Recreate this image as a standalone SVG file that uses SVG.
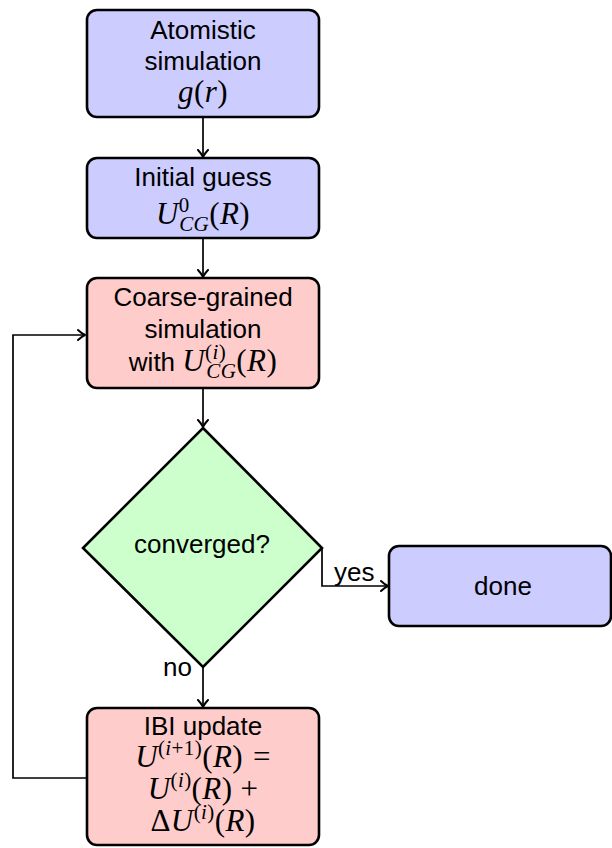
<svg xmlns="http://www.w3.org/2000/svg" width="612" height="848" viewBox="0 0 612 848">
  <style>
    .box{stroke:#000;stroke-width:2.6}
    .blue{fill:#ccccff}
    .red{fill:#ffcccc}
    .green{fill:#ccffcc}
    .t{font-family:"Liberation Sans",Arial,Helvetica,sans-serif;font-size:26px;text-anchor:middle;fill:#000}
    .lbl{font-family:"Liberation Sans",Arial,Helvetica,sans-serif;font-size:26px;fill:#000}
    .m{font-family:"Liberation Serif","Times New Roman",serif;font-size:31px;letter-spacing:0.4px}
    .i{font-style:italic}
    .s{font-size:21px}
    .c{fill:none;stroke:#000;stroke-width:1.7}
  </style>
  <defs>
    <marker id="arr" markerUnits="userSpaceOnUse" markerWidth="16" markerHeight="16" viewBox="-8 -8 16 16" refX="0" refY="0" orient="auto">
      <path d="M-7,-5 C-4,-2.2 -1.8,-0.7 0,0 C-1.8,0.7 -4,2.2 -7,5" fill="none" stroke="#000" stroke-width="2" stroke-linecap="round" stroke-linejoin="round"/>
    </marker>
  </defs>

  <!-- connectors -->
  <g id="connectors">
    <path class="c" d="M203,117 V157" marker-end="url(#arr)"/>
    <path class="c" d="M203,238 V277" marker-end="url(#arr)"/>
    <path class="c" d="M203,388 V427" marker-end="url(#arr)"/>
    <path class="c" d="M203,667 V707" marker-end="url(#arr)"/>
    <path class="c" d="M322,548 V586 H388" marker-end="url(#arr)"/>
    <path class="c" d="M87,778 H13 V335 H85" marker-end="url(#arr)"/>
    <text class="lbl" x="334" y="581">yes</text>
    <text class="lbl" x="192" y="676" text-anchor="end">no</text>
  </g>

  <!-- atomistic reference run -->
  <g id="atomistic">
    <rect class="box blue" x="87" y="10" width="232" height="107" rx="10"/>
    <text class="t" x="203" y="39">Atomistic</text>
    <text class="t" x="203" y="70">simulation</text>
    <text class="t m" x="203" y="102"><tspan class="i">g</tspan>(<tspan class="i">r</tspan>)</text>
  </g>

  <!-- starting potential -->
  <g id="initial">
    <rect class="box blue" x="87" y="158" width="232" height="80" rx="10"/>
    <text class="t" x="203" y="186">Initial guess</text>
    <text class="t m" x="203" y="224"><tspan class="i">U</tspan><tspan class="s" dy="-12">0</tspan><tspan class="s i" dx="-10.5" dy="19">CG</tspan><tspan dy="-7">(</tspan><tspan class="i">R</tspan>)</text>
  </g>

  <!-- CG run -->
  <g id="cg-sim">
    <rect class="box red" x="87" y="278" width="232" height="110" rx="10"/>
    <text class="t" x="203" y="306">Coarse-grained</text>
    <text class="t" x="203" y="338">simulation</text>
    <text class="t" x="203" y="371">with <tspan class="m i">U</tspan><tspan class="m s" dy="-12">(<tspan class="i">i</tspan>)</tspan><tspan class="m s i" dx="-19.8" dy="19">CG</tspan><tspan class="m" dy="-7">(<tspan class="i">R</tspan>)</tspan></text>
  </g>

  <!-- convergence test -->
  <g id="converged">
    <polygon class="box green" points="203,428 322,548 203,667 83,548"/>
    <text class="t" x="202" y="553">converged?</text>
  </g>

  <!-- finished -->
  <g id="done">
    <rect class="box blue" x="389" y="546" width="222" height="80" rx="10"/>
    <text class="t" x="503" y="595">done</text>
  </g>

  <!-- IBI potential update -->
  <g id="ibi-update">
    <rect class="box red" x="87" y="708" width="232" height="137" rx="10"/>
    <text class="t" x="203" y="735">IBI update</text>
    <text class="t m" x="203" y="767"><tspan class="i">U</tspan><tspan class="s" dy="-12">(<tspan class="i">i</tspan>+1)</tspan><tspan dy="12">(</tspan><tspan class="i">R</tspan>)<tspan dx="10">=</tspan></text>
    <text class="t m" x="203" y="799"><tspan class="i">U</tspan><tspan class="s" dy="-12">(<tspan class="i">i</tspan>)</tspan><tspan dy="12">(</tspan><tspan class="i">R</tspan>)<tspan dx="8">+</tspan></text>
    <text class="t m" x="203" y="831">Δ<tspan class="i">U</tspan><tspan class="s" dy="-12">(<tspan class="i">i</tspan>)</tspan><tspan dy="12">(</tspan><tspan class="i">R</tspan>)</text>
  </g>
</svg>
